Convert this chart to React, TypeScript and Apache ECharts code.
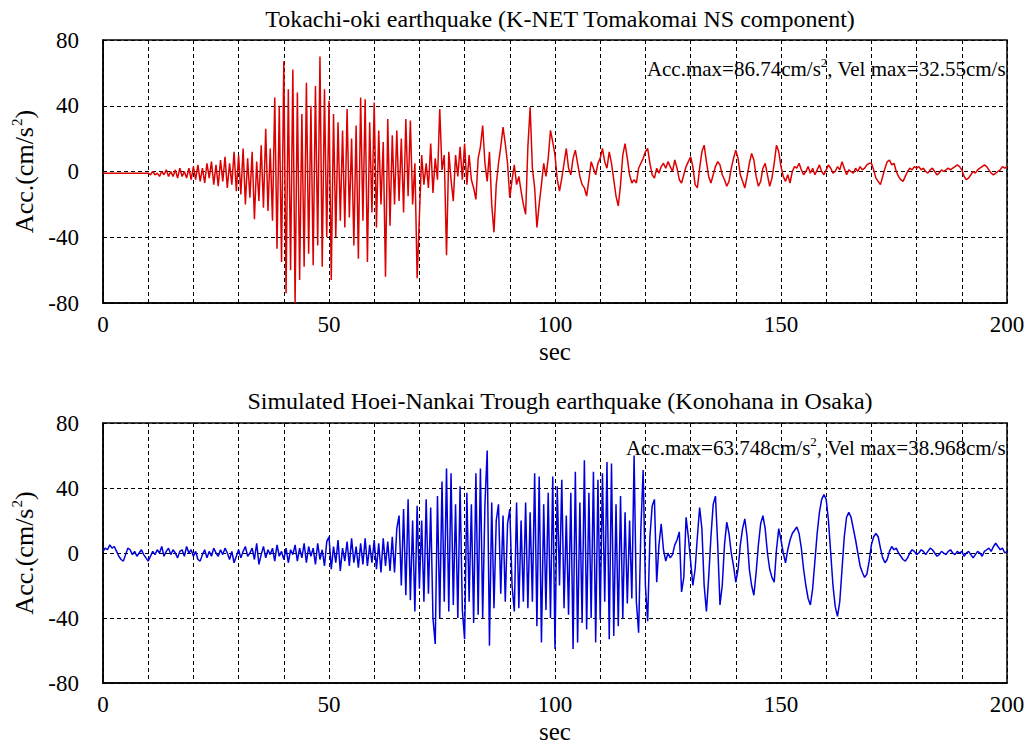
import React, { useEffect, useRef } from "react";
import * as echarts from "echarts";

const T_STEP = 0.5; // seconds between samples

const titleTop = "Tokachi-oki earthquake (K-NET Tomakomai NS component)";
const titleBottom = "Simulated Hoei-Nankai Trough earthquake (Konohana in Osaka)";
const noteTop = ["Acc.max=86.74cm/s", "2", ", Vel max=32.55cm/s"];
const noteBottom = ["Acc.max=63.748cm/s", "2", ", Vel max=38.968cm/s"];
const xLabelTicks = [0, 50, 100, 150, 200];
const yRange = [-80, 80];

// Tokachi-oki (K-NET Tomakomai NS), cm/s^2, every 0.5 s from 0 to 200 s
const tokachiAcc = [
  -1, -1, -1, -1, -1, -1, -1, -1, -1, -1, -1, -1, -1, -1, -1, -1, -1, -1, -1, -1,
  -1, -2, 0, -2, -1, -3, 0, -2, 1, -3, 0, -3, 1, -4, 2, -3, 0, -4, 2, -5,
  3, -5, 4, -6, 2, -7, 5, -4, 6, -8, 4, -9, 7, -6, 9, -10, 5, -8, 12, -12,
  10, -14, 14, -20, 8, -16, 12, -29, 6, -18, 16, -22, 26, -24, 14, -30, 45, -47, 40, -55,
  67, -74, 50, -60, 62, -80, 48, -66, 35, -58, 54, -50, 40, -57, 52, -45, 70, -58, 50, -40,
  43, -66, 35, -40, 30, -30, 25, -34, 38, -28, 20, -45, 28, -53, 45, -30, 44, -55, 30, -25,
  42, -34, 25, -20, 18, -64, 32, -33, 22, -20, 25, -18, 20, -25, 32, -15, 31, -20, 5, -65,
  -27, 10, -8, 5, -10, 17, -13, 8, -5, 38, 1, 10, -51, 12, -5, -18, 10, -3, 15, -5,
  17, -8, 10, -5, -10, -17, 8, 15, 28, 5, -6, 12, -20, -37, -8, 5, 15, 27, 17, 5,
  -16, -5, 4, -8, -3, -12, -20, -26, 15, 39, 2, -10, -34, -20, -8, 5, -3, 8, 25, 18,
  10, -5, -12, -4, 5, 14, 2, -2, 8, 13, 5, -3, -8, -10, -15, -5, 6, 2, -2, 5,
  8, 14, 6, 2, 12, 5, -5, -15, -21, -8, 10, 17, 8, -2, -7, -5, -7, 2, 5, 8,
  12, 14, 5, -2, -4, 2, -1, 3, 5, 2, 6, 3, 0, 7, 2, -5, -7, -2, 3, 6,
  9, 3, -8, -10, 2, 12, 16, 6, -3, -7, -2, 3, 6, 4, -2, -5, -9, -6, 2, 8,
  13, 8, -2, -6, -10, -3, 5, 11, 7, -3, -9, -6, 2, 5, -2, -9, -4, 5, 16, 12,
  3, -3, -6, -2, -7, 0, 3, 2, 5, 1, -2, 0, 3, -1, 2, -2, 1, 4, 0, -2,
  1, 4, 2, -1, 0, 3, 1, 6, 2, -2, 1, 0, -1, 2, 0, 3, 1, 2, 4, 5,
  5, 1, -4, -6, -8, -3, 2, 6, 7, 4, 5, 0, -3, -5, -6, -3, 0, 2, 1, 3,
  2, 3, 1, 2, 0, -1, 1, 2, 0, -2, -1, 1, 0, 1, 2, 1, 2, 3, 4, 3,
  1, -3, -5, -4, -2, 0, -1, 1, 2, 3, 4, 3, 1, -1, -2, -1, 0, 1, 3, 2,
  3,
];

// Simulated Hoei-Nankai Trough (Konohana, Osaka), cm/s^2, every 0.5 s
const hoeiAcc = [
  1, 3, 2, 5, 3, 4, 1, -2, -4, -5, -1, 3, 2, -1, 1, -2, 0, 2, -1, -3,
  -5, -2, 1, -1, 2, 0, 4, -2, 1, 3, -1, 2, 0, -3, 1, 2, -2, 4, 0, 2,
  -2, 1, -4, -5, -1, 2, -3, 1, -2, 3, 0, -2, 2, -1, 3, 0, -4, 1, -6, -2,
  2, -3, 1, 4, -2, 0, 3, -4, 6, -7, -1, 4, -3, 2, -1, 3, -5, 5, -2, 1,
  -4, 3, -6, 2, -1, 5, -5, 3, -3, 6, -6, 4, -2, 3, -7, 6, -4, 2, -8, 7,
  10, -10, 4, -6, 8, -11, 3, -5, 7, -8, 9, -6, 4, -9, 6, -7, 9, -8, 5, -6,
  8, -10, 6, -12, 9, -8, 7, -11, 10, -12, 15, 23, -20, 27, -26, 33, -29, 20, -36, 29,
  -22, 20, -30, 33, -25, 28, -40, -56, 35, -40, 44, -30, 52, -36, 49, -32, 30, -40, 41, -35,
  -53, 37, -30, 30, -43, 49, -38, 52, -40, 30, 63, -57, 31, -34, 20, 30, -25, 23, -30, 18,
  27, -20, -36, 31, -34, 20, -30, 31, -34, 25, -30, 49, -45, 47, -55, 30, -35, 37, -40, 47,
  -59, 41, -20, 45, -34, 23, -38, 37, -59, 50, -55, 31, -43, 57, -47, 37, -40, 50, -55, 45,
  -41, 49, -30, 56, -53, 55, -51, 30, -45, 35, -40, 25, -31, 20, -28, 60, -30, -49, 15, 51,
  -20, -42, 10, 29, 33, -18, 5, 18, 2, -5, 0, -3, -1, 5, 8, 13, -24, -15, 22, 10,
  -5, -20, -10, 10, 28, 15, -20, -36, -15, 10, 30, 35, 5, -32, -20, 5, 19, 12, 0, -8,
  -18, -10, 5, 15, 21, 10, -10, -20, -26, -12, 5, 18, 23, 15, 0, -10, -15, -18, 2, 15,
  8, 0, -6, 2, 8, 12, 14, 16, 12, 3, -10, -20, -28, -32, -22, -5, 12, 25, 33, 36,
  33, 20, 0, -20, -33, -39, -30, -10, 10, 22, 25, 22, 15, 8, 0, -8, -12, -15, -13, -5,
  5, 10, 12, 10, 3, -3, -6, -4, 1, 4, 2, 3, 0, -2, -4, -5, -3, 0, 2, 1,
  -1, 0, 2, 1, -1, 1, 3, 2, 0, -2, -1, 1, 0, -1, 1, 2, 0, -1, 1, 0,
  1, -2, 0, 1, -1, -3, -1, 1, 0, -2, 1, 2, 3, 1, 4, 6, 4, 2, 3, 0,
  1,
];

const FONT = "'Liberation Serif', 'Times New Roman', serif";

function toPairs(arr: number[]) {
  return arr.map((v, i) => [i * T_STEP, v]);
}

export default function App() {
  const ref = useRef<HTMLDivElement>(null);

  useEffect(() => {
    if (!ref.current) return;
    const chart = echarts.init(ref.current, undefined, { renderer: "svg" });

    const grids = [
      { left: 103, top: 40, width: 904, height: 263 },
      { left: 103, top: 423, width: 904, height: 260 },
    ];

    const dashed = { type: [4, 3] as any, color: "#000", width: 1 };

    const xAxes = grids.map((_, i) => ({
      type: "value",
      gridIndex: i,
      min: 0,
      max: 200,
      interval: 10,
      name: "sec",
      nameLocation: "middle",
      nameGap: 36,
      nameTextStyle: { fontSize: 25, color: "#000", fontFamily: FONT },
      axisLine: { show: true, onZero: false, lineStyle: { color: "#000", width: 1.5 } },
      axisTick: { show: false },
      axisLabel: {
        formatter: (v: number) => (xLabelTicks.indexOf(v) >= 0 ? String(v) : ""),
        fontSize: 23,
        color: "#000",
        margin: 10,
        fontFamily: FONT,
      },
      splitLine: { show: true, lineStyle: dashed },
    }));

    const richName = {
      a: { fontSize: 26, color: "#000", fontFamily: FONT },
      s: { fontSize: 15, color: "#000", fontFamily: FONT, padding: [0, 0, 14, 1] },
    };

    const yAxes = grids.map((_, i) => ({
      type: "value",
      gridIndex: i,
      min: yRange[0],
      max: yRange[1],
      interval: 40,
      name: "{a|Acc.(cm/s}{s|2}{a|)}",
      nameLocation: "middle",
      nameGap: 58,
      nameRotate: 90,
      nameTextStyle: { rich: richName },
      axisLine: { show: true, onZero: false, lineStyle: { color: "#000", width: 1.5 } },
      axisTick: { show: false },
      axisLabel: { fontSize: 23, color: "#000", margin: 24, fontFamily: FONT },
      splitLine: { show: true, lineStyle: dashed },
    }));

    const noteRich = {
      a: { fontSize: 21, fill: "#000", fontFamily: FONT },
      s: { fontSize: 13, fill: "#000", fontFamily: FONT, padding: [0, 0, 12, 0] },
    };

    chart.setOption({
      animation: false,
      title: [
        {
          text: titleTop,
          left: 555,
          top: 2,
          textAlign: "center",
          textStyle: { fontSize: 24, fontWeight: "normal", color: "#000", fontFamily: FONT },
        },
        {
          text: titleBottom,
          left: 555,
          top: 384,
          textAlign: "center",
          textStyle: { fontSize: 24, fontWeight: "normal", color: "#000", fontFamily: FONT },
        },
      ],
      grid: grids.map((g) => ({
        ...g,
        show: true,
        borderColor: "#000",
        borderWidth: 1.5,
        backgroundColor: "transparent",
        containLabel: false,
      })),
      xAxis: xAxes,
      yAxis: yAxes,
      graphic: [
        {
          type: "text",
          right: 24,
          top: 56,
          z: 10,
          style: {
            text: `{a|${noteTop[0]}}{s|${noteTop[1]}}{a|${noteTop[2]}}`,
            rich: noteRich,
          },
        },
        {
          type: "text",
          right: 24,
          top: 435,
          z: 10,
          style: {
            text: `{a|${noteBottom[0]}}{s|${noteBottom[1]}}{a|${noteBottom[2]}}`,
            rich: noteRich,
          },
        },
      ],
      series: [
        {
          type: "line",
          xAxisIndex: 0,
          yAxisIndex: 0,
          data: toPairs(tokachiAcc),
          showSymbol: false,
          lineStyle: { color: "#dd0000", width: 1.5 },
          itemStyle: { color: "#dd0000" },
          z: 3,
        },
        {
          type: "line",
          xAxisIndex: 1,
          yAxisIndex: 1,
          data: toPairs(hoeiAcc),
          showSymbol: false,
          lineStyle: { color: "#0000dd", width: 1.5 },
          itemStyle: { color: "#0000dd" },
          z: 3,
        },
      ],
    });

    return () => chart.dispose();
  }, []);

  return (
    <div
      ref={ref}
      style={{ position: "absolute", left: 0, top: 0, width: 1030, height: 745, background: "#fff" }}
    />
  );
}
